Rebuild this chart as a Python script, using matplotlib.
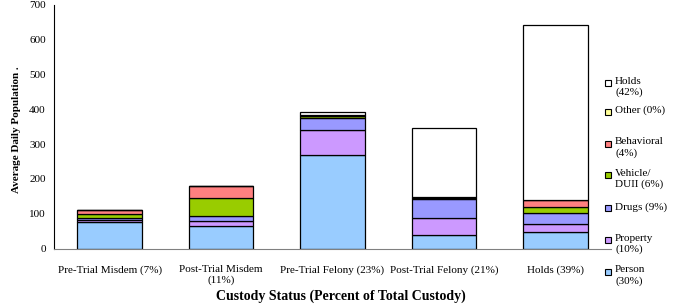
import numpy as np
import matplotlib
matplotlib.use("Agg")
import matplotlib.pyplot as plt
from matplotlib.patches import Rectangle

categories = ["Pre-Trial Misdem (7%)", "Post-Trial Misdem\n(11%)", "Pre-Trial Felony (23%)",
              "Post-Trial Felony (21%)", "Holds (39%)"]
series = ["Person", "Property", "Drugs", "Vehicle/DUII", "Behavioral", "Other", "Holds"]
person = [77, 65, 269, 38, 46]
prop = [4, 15, 73, 50, 25]
drugs = [6, 12, 34, 55, 32]
vehicle = [13, 54, 4, 2, 17]
behavioral = [11, 34, 2, 2, 18]
other = [1, 1, 2, 2, 1]
holds = [0, 0, 7, 196, 503]
legend_labels = ["Holds\n(42%)", "Other (0%)", "Behavioral\n(4%)", "Vehicle/\nDUII (6%)",
                 "Drugs (9%)", "Property\n(10%)", "Person\n(30%)"]

colors = ["#99CCFF", "#CC99FF", "#9999FF", "#99CC00", "#FF8080", "#FFFF99", "#FFFFFF"]

plt.rcParams["font.family"] = ["Liberation Serif", "DejaVu Serif"]

W, H = 683, 305
fig = plt.figure(figsize=(W / 100, H / 100), dpi=100)
ax = fig.add_axes([54 / W, 1 - 248.5 / H, (611 - 54) / W, (248.5 - 5) / H])

x = np.arange(len(categories))
bottom = np.zeros(len(categories))
for vals, c in zip([person, prop, drugs, vehicle, behavioral, other, holds], colors):
    v = np.array(vals, dtype=float)
    ax.bar(x, v, width=0.58, bottom=bottom, color=c, edgecolor="black", linewidth=0.9)
    bottom += v

ax.set_xlim(-0.5, 4.5)
ax.set_ylim(0, 700)
ax.set_yticks(range(0, 701, 100))
ax.set_xticks(x)
ax.set_xticklabels(categories, fontsize=8)
ax.tick_params(axis="both", length=0, labelsize=8)
ax.tick_params(axis="x", pad=12)
ax.tick_params(axis="y", pad=6)
for s in ["top", "right"]:
    ax.spines[s].set_visible(False)
ax.spines["bottom"].set_color("#808080")
ax.spines["left"].set_color("black")

fig.text(341 / W, 1 - 296 / H, "Custody Status (Percent of Total Custody)",
         ha="center", va="center", fontsize=10, fontweight="bold")
fig.text(17 / W, 1 - 130 / H, "Average Daily Population .", rotation=90,
         ha="center", va="center", fontsize=8, fontweight="bold")
# title sits above the top edge, only its descenders show (as in the original)
fig.text(361 / W, 1 + 6.5 / H, "Average Daily Inmate Custody (2006-2007)",
         ha="center", va="baseline", fontsize=11, fontweight="bold")

# legend, hand placed like the original
leg_y = [83, 111.5, 143.5, 175, 208, 240, 271.5]
leg_colors = colors[::-1]
for lab, yy, c in zip(legend_labels, leg_y, leg_colors):
    fig.add_artist(Rectangle((605 / W, 1 - (yy + 3) / H), 6 / W, 6 / H,
                             transform=fig.transFigure, facecolor=c,
                             edgecolor="black", linewidth=0.8))
    fig.text(615 / W, 1 - (yy - 6) / H, lab, ha="left", va="top", fontsize=8,
             linespacing=1.2)

fig.savefig("out.png", dpi=100)
